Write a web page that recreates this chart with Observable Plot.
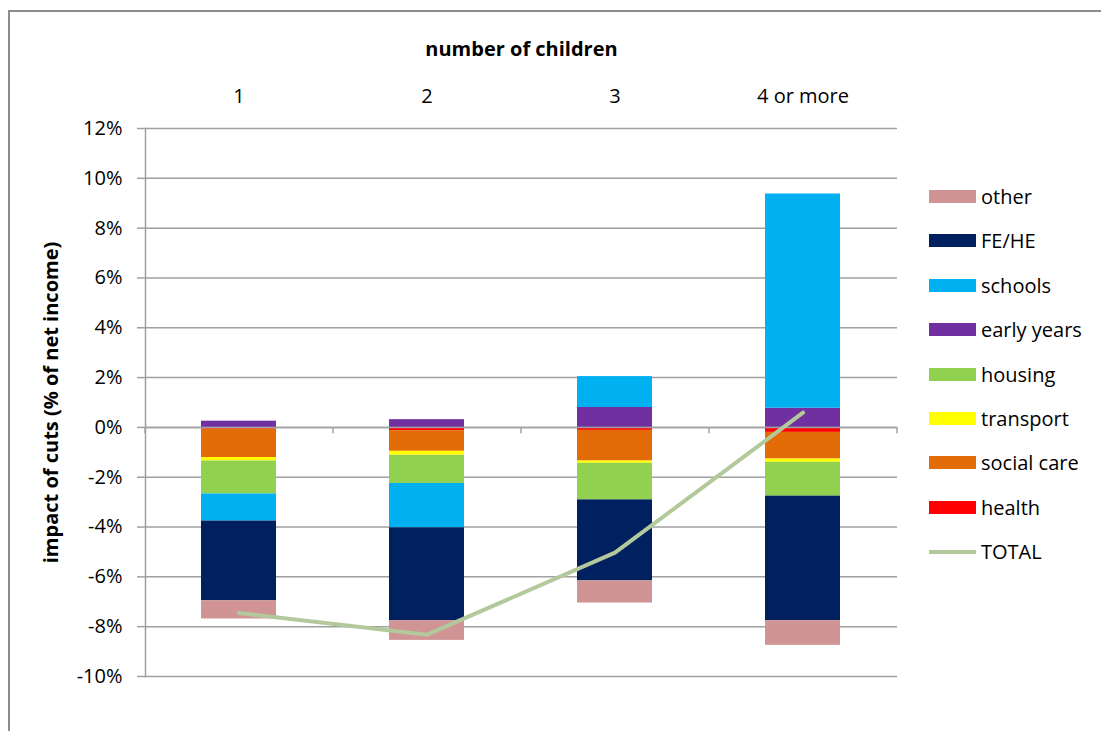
<!DOCTYPE html>
<html>
<head>
<meta charset="utf-8">
<script src="https://cdn.jsdelivr.net/npm/d3@7"></script>
<script src="https://cdn.jsdelivr.net/npm/@observablehq/plot@0.6"></script>
<style>
  html, body { margin: 0; padding: 0; background: #fff; overflow: hidden; }
  #wrap { position: relative; width: 1101px; height: 731px; font-family: "Open Sans", Lato, sans-serif; }
  #border { position: absolute; left: 8px; top: 10px; width: 1200px; height: 900px; border: 2px solid #8c8c8c; box-sizing: border-box; }
  #chart { position: absolute; left: 0; top: 0; }
  #legend { position: absolute; left: 929px; top: 0; }
  .item { position: absolute; left: 0; width: 172px; height: 30px; }
  .sw { position: absolute; left: 0; width: 47px; height: 13px; }
  .ln { position: absolute; left: 0; width: 47px; height: 4px; }
  .lab { position: absolute; left: 52px; font-size: 20px; color: #000; line-height: 22px; white-space: nowrap; }
</style>
</head>
<body>
<div id="wrap">
  <div id="border"></div>
  <div id="chart"></div>
  <div id="legend"></div>
</div>
<script>
const categories = ["1", "2", "3", "4 or more"];
const seriesNames = ["health", "social care", "transport", "housing", "early years", "schools", "FE/HE", "other"];
const seriesColors = ["#FF0000", "#E36C09", "#FFFF00", "#92D050", "#7030A0", "#00B0F0", "#002060", "#D09494"];
const health     = [-0.07, -0.13, -0.12, -0.20];
const socialCare = [-1.14, -0.83, -1.23, -1.07];
const transport  = [-0.14, -0.16, -0.09, -0.13];
const housing    = [-1.32, -1.13, -1.47, -1.36];
const earlyYears = [0.25, 0.31, 0.80, 0.77];
const schools    = [-1.09, -1.78, 1.24, 8.60];
const feHe       = [-3.20, -3.73, -3.25, -5.00];
const other      = [-0.73, -0.79, -0.89, -0.99];
const total      = [-7.45, -8.32, -5.03, 0.59];
const yTicks = [-10, -8, -6, -4, -2, 0, 2, 4, 6, 8, 10, 12];
const legendOrder = ["other", "FE/HE", "schools", "early years", "housing", "transport", "social care", "health"];

const seriesValues = [health, socialCare, transport, housing, earlyYears, schools, feHe, other];
const rows = [];
categories.forEach((c, i) => {
  seriesNames.forEach((s, j) => rows.push({category: c, series: s, value: seriesValues[j][i]}));
});
const totals = categories.map((c, i) => ({category: c, value: total[i]}));

const font = "'Open Sans', Lato, sans-serif";
const plot = Plot.plot({
  width: 1101,
  height: 731,
  marginLeft: 145,
  marginRight: 204,
  marginTop: 128,
  marginBottom: 55,
  style: {fontFamily: font, fontSize: "20px", color: "#000", background: "transparent"},
  x: {domain: categories, paddingInner: 0.6, paddingOuter: 0.3, axis: null},
  y: {domain: [-10, 12], axis: null},
  color: {domain: seriesNames, range: seriesColors},
  marks: [
    Plot.gridY(yTicks, {stroke: "#a0a0a0", strokeOpacity: 1, strokeWidth: 1.5}),
    Plot.barY(rows, {x: "category", y: "value", fill: "series", order: seriesNames}),
    Plot.ruleY([0], {stroke: "#a0a0a0", strokeWidth: 1.5}),
    Plot.ruleX(categories, {x: d => d, y1: 0, y2: -0.25, dx: -94, stroke: "#a0a0a0", strokeWidth: 1.5}),
    Plot.ruleX([categories[categories.length - 1]], {x: d => d, y1: 0, y2: -0.25, dx: 94, stroke: "#a0a0a0", strokeWidth: 1.5}),
    Plot.frame({anchor: "left", stroke: "#a0a0a0", strokeWidth: 1.5}),
    Plot.axisY(yTicks, {tickSize: 8, tickPadding: 15, tickFormat: d => d + "%", stroke: "#a0a0a0", strokeWidth: 1.5, fontSize: 20, label: null}),
    Plot.axisX({anchor: "top", tickSize: 0, tickPadding: 26, fontSize: 20, label: null}),
    Plot.line(totals, {x: "category", y: "value", stroke: "#B3C99B", strokeWidth: 4}),
    Plot.text(["number of children"], {frameAnchor: "top", dy: -87, fontWeight: "bold", fontSize: 20}),
    Plot.text(["impact of cuts (% of net income)"], {frameAnchor: "left", textAnchor: "middle", dx: -94, rotate: -90, fontWeight: "bold", fontSize: 20})
  ]
});
document.getElementById("chart").appendChild(plot);

const legend = document.getElementById("legend");
const rowY0 = 197, rowStep = 44.4;
legendOrder.forEach((s, i) => {
  const cy = rowY0 + i * rowStep;
  const item = document.createElement("div");
  item.className = "item";
  item.style.top = (cy - 15) + "px";
  const sw = document.createElement("div");
  sw.className = "sw";
  sw.style.top = "8px";
  sw.style.background = seriesColors[seriesNames.indexOf(s)];
  const lab = document.createElement("div");
  lab.className = "lab";
  lab.style.top = "4px";
  lab.textContent = s;
  item.appendChild(sw); item.appendChild(lab);
  legend.appendChild(item);
});
{
  const cy = rowY0 + legendOrder.length * rowStep;
  const item = document.createElement("div");
  item.className = "item";
  item.style.top = (cy - 15) + "px";
  const ln = document.createElement("div");
  ln.className = "ln";
  ln.style.top = "13px";
  ln.style.background = "#B3C99B";
  const lab = document.createElement("div");
  lab.className = "lab";
  lab.style.top = "4px";
  lab.textContent = "TOTAL";
  item.appendChild(ln); item.appendChild(lab);
  legend.appendChild(item);
}
</script>
</body>
</html>
